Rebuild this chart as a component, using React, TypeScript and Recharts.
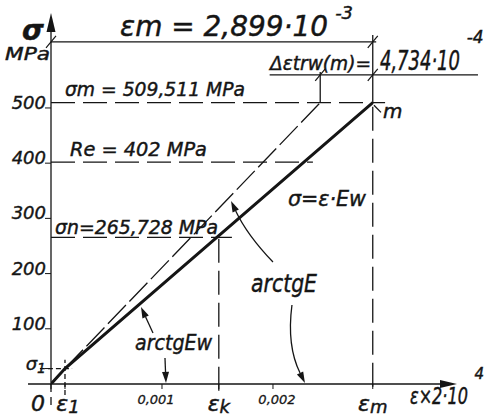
import React from 'react';
import { LineChart, Line, XAxis, YAxis, ReferenceLine, ReferenceDot } from 'recharts';

// strain / stress values
const strainTicks = [0, 0.000126, 0.001, 0.001512, 0.002, 0.002899];
const strainTickText = ['0', 'ε', '0,001', 'ε', '0,002', 'ε'];
const strainTickSub = ['', '1', '', 'k', '', 'm'];

const stressTicks = [28, 100, 200, 300, 400, 500];
const stressTickText = ['σ', '100', '200', '300', '400', '500'];
const stressTickSub = ['1', '', '', '', '', ''];

const epsM = 0.002899;
const epsK = 0.001512;
const eps1 = 0.000126;
const sigmaM = 509.511;
const sigmaN = 265.728;
const sigma1 = 28;
const re = 402;
const deltaEps = 0.0004734;

const mainStrain = [0, eps1, epsM];
const mainStress = [0, sigma1, sigmaM];
const tangentStrain = [eps1, epsM - deltaEps];
const tangentStress = [sigma1, sigmaM];

const mainData = mainStrain.map((e, i) => ({ e, s: mainStress[i] }));
const tangentData = tangentStrain.map((e, i) => ({ e, s: tangentStress[i] }));

const ink = '#151515';
const font = "'DejaVu Sans', 'Liberation Sans', sans-serif";

const arrowShape = (bend: number, head = 11, half = 3.5) => (p: any) => {
  const { x1, y1, x2, y2 } = p;
  const dx = x2 - x1, dy = y2 - y1;
  const len = Math.hypot(dx, dy) || 1;
  const cx = (x1 + x2) / 2 - (dy / len) * bend;
  const cy = (y1 + y2) / 2 + (dx / len) * bend;
  const tx = x2 - cx, ty = y2 - cy;
  const tl = Math.hypot(tx, ty) || 1;
  const ux = tx / tl, uy = ty / tl;
  const bx = x2 - ux * head, by = y2 - uy * head;
  const pts = `${x2},${y2} ${bx - uy * half},${by + ux * half} ${bx + uy * half},${by - ux * half}`;
  return (
    <g>
      <path d={`M${x1},${y1} Q${cx},${cy} ${bx},${by}`} fill="none" stroke={ink} strokeWidth={1.3} />
      <polygon points={pts} fill={ink} />
    </g>
  );
};

const note = (
  key: string,
  e: number,
  s: number,
  text: string,
  size: number,
  width?: number,
  anchor: 'start' | 'end' | 'middle' = 'start',
  weight: number = 400
) => (
  <ReferenceDot
    key={key}
    x={e}
    y={s}
    r={0}
    ifOverflow="visible"
    shape={(p: any) => (
      <text
        x={p.cx}
        y={p.cy}
        fontSize={size}
        fontFamily={font}
        fontStyle="italic"
        fontWeight={weight}
        fill={ink}
        stroke={ink}
        strokeWidth={0.45}
        textAnchor={anchor}
        textLength={width}
        lengthAdjust={width ? 'spacingAndGlyphs' : undefined}
      >
        {text}
      </text>
    )}
  />
);

const slash = (key: string, e: number, s: number) => (
  <ReferenceDot
    key={key}
    x={e}
    y={s}
    r={0}
    ifOverflow="visible"
    shape={(p: any) => (
      <line x1={p.cx - 5} y1={p.cy + 6} x2={p.cx + 5} y2={p.cy - 6} stroke={ink} strokeWidth={1.2} />
    )}
  />
);

const seg = (key: string, a: [number, number], b: [number, number], dash?: string, w = 1.3) => (
  <ReferenceLine
    key={key}
    segment={[{ x: a[0], y: a[1] }, { x: b[0], y: b[1] }]}
    stroke={ink}
    strokeWidth={w}
    strokeDasharray={dash}
    ifOverflow="visible"
  />
);

const arrow = (key: string, a: [number, number], b: [number, number], bend: number, head?: number, half?: number) => (
  <ReferenceLine
    key={key}
    segment={[{ x: a[0], y: a[1] }, { x: b[0], y: b[1] }]}
    ifOverflow="visible"
    shape={arrowShape(bend, head, half)}
  />
);

const XTick = (props: any) => {
  const { x, y, index } = props;
  const isDigit = index === 2 || index === 4;
  const shift = [-13, 3, -6, 0, 4, 0][index] ?? 0;
  if (isDigit) {
    return (
      <text x={x + shift} y={y + 13} fontSize={13} fontFamily={font} fontStyle="italic" fill={ink} stroke={ink} strokeWidth={0.3} textAnchor="middle">
        {strainTickText[index]}
      </text>
    );
  }
  return (
    <text x={x + shift} y={y + 20} fontSize={22} fontFamily={font} fontStyle="italic" fill={ink} stroke={ink} strokeWidth={0.45} textAnchor="middle">
      {strainTickText[index]}
      {strainTickSub[index] && <tspan fontSize={18} dy={2}>{strainTickSub[index]}</tspan>}
    </text>
  );
};

const YTick = (props: any) => {
  const { x, y, index } = props;
  return (
    <text x={x + 3} y={y + 1} fontSize={18} fontFamily={font} fontStyle="italic" fill={ink} stroke={ink} strokeWidth={0.4} textAnchor="end">
      {stressTickText[index]}
      {stressTickSub[index] && <tspan fontSize={14} dy={3}>{stressTickSub[index]}</tspan>}
    </text>
  );
};

export default function App() {
  return (
    <div style={{ position: 'absolute', left: 0, top: 0, width: 498, height: 420, background: '#fff' }}>
      <LineChart width={498} height={420} margin={{ top: 13, right: 41, bottom: 0, left: 0 }}>
        <XAxis
          type="number"
          dataKey="e"
          domain={[0, 0.003658]}
          ticks={strainTicks}
          interval={0}
          height={36}
          axisLine={false}
          tickLine={{ stroke: ink }}
          tickSize={5}
          tick={XTick}
          allowDataOverflow
        />
        <YAxis
          type="number"
          dataKey="s"
          domain={[0, 672]}
          ticks={stressTicks}
          interval={0}
          width={51}
          axisLine={false}
          tickLine={{ stroke: ink }}
          tickSize={6}
          tick={YTick}
          allowDataOverflow
        />

        {/* axes with arrows */}
        {arrow('xaxis', [-0.000207, 0], [0.003658, 0], 0, 17, 4)}
        {arrow('yaxis', [0, -1], [0, 672], 0, 19, 4.5)}
        {seg('ybelow', [0, 0], [0, -47], '8 5')}

        {/* guide lines */}
        {seg('smH', [0, sigmaM], [0.00301, sigmaM], '24 8')}
        {seg('reH', [0, re], [0.00236, re], '24 8')}
        {seg('snH', [0, sigmaN], [0.00163, sigmaN], '24 8')}
        {seg('s1H', [-0.0001, sigma1], [0.00019, sigma1], '5 3')}
        {seg('e1V', [eps1, -20], [eps1, 44], '5 3')}
        {seg('ekV', [epsK, -12], [epsK, sigmaN], '24 8')}
        {seg('emV', [epsM, -5], [epsM, sigmaM], '24 8')}
        {seg('emTop', [epsM, sigmaM], [epsM, 632])}
        {seg('tanTop', [epsM - deltaEps, sigmaM], [epsM - deltaEps, 565])}
        {seg('emDim', [0, 619.6], [0.00293, 619.6])}
        {seg('deDim', [0.00197, 559.8], [0.003847, 559.8])}
        {seg('mLead', [0.00291, 505], [0.002973, 492])}
        {slash('sl1', 0, 619.6)}
        {slash('sl2', epsM, 619.6)}
        {slash('sl3', epsM, 559.8)}
        {slash('sl4', epsM - deltaEps, 559.8)}

        <Line data={tangentData} dataKey="s" stroke={ink} strokeWidth={1.3} strokeDasharray="26 5" dot={false} isAnimationActive={false} />
        <Line data={mainData} dataKey="s" stroke={ink} strokeWidth={3} dot={false} isAnimationActive={false} />

        {/* leaders */}
        {arrow('a1', [0.002, 221], [0.001622, 331.5], -6)}
        {arrow('a2', [0.002171, 143.1], [0.002288, 2], 12)}
        {arrow('a3', [0.000919, 92.4], [0.000811, 139.5], 0)}
        {arrow('a4', [0.001027, 47.1], [0.001036, 2], 0)}

        {/* texts */}
        {note('sig', -0.000261, 623.2, 'σ', 28, undefined, 'start', 700)}
        {note('mpa', -0.000414, 587, 'MPa', 17, 45)}
        {note('em', 0.000622, 630.4, 'εm = 2,899·10', 28, 208)}
        {note('em3', 0.00256, 661, '-3', 18)}
        {note('de', 0.002883, 568.8, 'Δεtrw(m)=', 19, 101, 'end')}
        {note('de2', 0.002964, 568.8, '4,734·10', 26, 80)}
        {note('de4', 0.003745, 618, '-4', 17)}
        {note('sm', 0.000126, 521.7, 'σm = 509,511  MPa', 20, 180)}
        {note('re', 0.000171, 413, 'Re = 402 MPa', 20, 137)}
        {note('sn', 0.000036, 271.7, 'σn=265,728   MPa', 20, 163)}
        {note('hooke', 0.002135, 322.5, 'σ=ε·Ew', 22, 78)}
        {note('atE', 0.001802, 166.7, 'arctgE', 25, 66)}
        {note('atEw', 0.000757, 61.6, 'arctgEw', 21, 77)}
        {note('m', 0.002991, 481.9, 'm', 20)}
        {note('xl', 0.003234, -36, 'ε×2·10', 23, 58)}
        {note('xl4', 0.003815, 9, '4', 15)}
      </LineChart>
    </div>
  );
}
